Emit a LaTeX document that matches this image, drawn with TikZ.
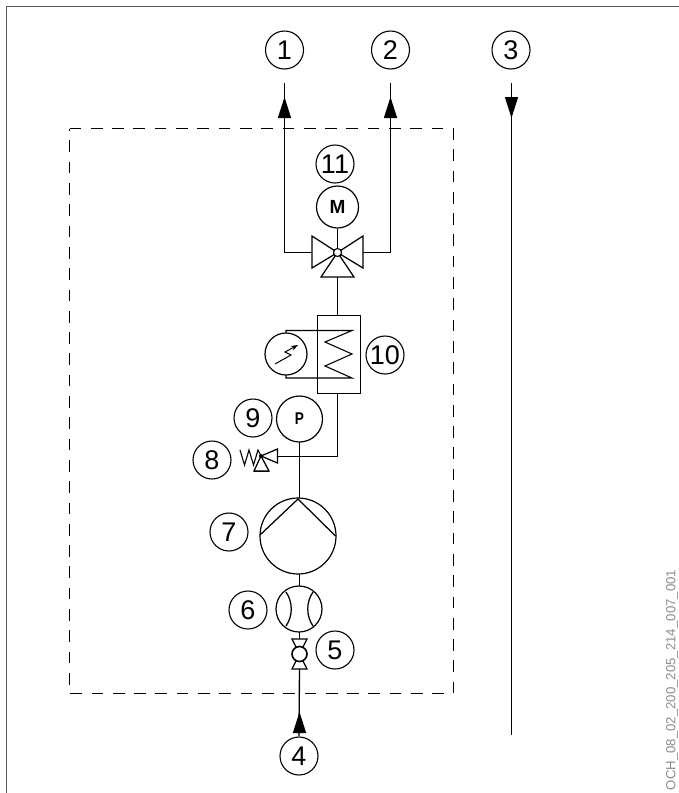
\documentclass[tikz,border=0pt]{standalone}
\usepackage{fontspec}
\setmainfont{Liberation Sans}
\usetikzlibrary{arrows.meta,calc}
\tikzset{
  lbl/.style={circle,draw=black,line width=1.1pt,fill=white,inner sep=0pt,minimum size=38pt,font=\fontsize{27}{27}\selectfont},
  instr/.style={circle,draw=black,line width=1.2pt,fill=white,inner sep=0pt,font=\bfseries},
  pipe/.style={line width=1.35pt,draw=black},
  sym/.style={line width=1.25pt,draw=black,line join=miter},
  flow/.style={line width=1.35pt,draw=black,-{Triangle[length=21pt,width=13pt]},shorten >=0pt},
  hub/.style={circle,draw=black,line width=1.1pt,fill=white,inner sep=0pt,minimum size=8pt},
}
\begin{document}
\begin{tikzpicture}[x=1pt,y=-1pt]
\useasboundingbox (0,0) rectangle (679,793);
% frame
\draw[line width=1.4pt,draw=black!65] (6.5,793) -- (6.5,6.5) -- (679,6.5);
% dashed boundary
\draw[line width=1.5pt,draw=black,dash pattern=on 11.7pt off 9.6pt] (69.5,128.5) -- (453.5,128.5) -- (453.5,693.5) -- (69.5,693.5) -- cycle;

% labels
\node[lbl] (n1) at (284.5,50) {1};
\node[lbl] (n2) at (390.5,50) {2};
\node[lbl] (n3) at (511,50) {3};
\node[lbl] (n4) at (299,756) {4};
\node[lbl] (n5) at (335,650) {5};
\node[lbl] (n6) at (248,610) {6};
\node[lbl] (n7) at (229,532) {7};
\node[lbl] (n8) at (212,460) {8};
\node[lbl] (n9) at (253,418) {9};
\node[lbl] (n10) at (385,355) {10};
\node[lbl] (n11) at (335,164) {11};

% coordinates
\coordinate (v) at (337.5,252.5);
\coordinate (vl) at (312,252.5);
\coordinate (vr) at (363,252.5);
\coordinate (vb) at (337.5,277);
\coordinate (outl) at (284.5,252.5);
\coordinate (outr) at (390.5,252.5);
\coordinate (t1) at (284.5,83);
\coordinate (t2) at (390.5,83);
\coordinate (t3) at (511.5,83);
\coordinate (e3) at (511.5,735);
\coordinate (tip1) at (284.5,97);
\coordinate (tip2) at (390.5,97);
\coordinate (tip3) at (511.5,118);
\coordinate (tip4) at (299.5,712);
\coordinate (bend) at (337.5,456.5);
\coordinate (rv) at (261,456);
\coordinate (rvr) at (277,456.5);
\coordinate (bv) at (299.5,654);
\coordinate (bvt) at (299.5,639);
\coordinate (bvb) at (299.5,669);

% pipes first
\draw[pipe] (outl) -- (t1);
\draw[pipe] (outr) -- (t2);
\draw[pipe] (vl) -- (outl);
\draw[pipe] (vr) -- (outr);
\draw[pipe] (t3) -- (e3);
\draw[pipe] (bvb) -- (n4.north);
\draw[pipe] (vb) -- (337.5,315);
\draw[pipe] (337.5,393) -- (bend) -- (rvr);
\draw[pipe] (299.5,440) -- (299.5,499);
\draw[pipe] (299.5,572) -- (299.5,587);
\draw[pipe] (299.5,631) -- (bvt);

% flow arrows
\draw[flow] (284.5,118) -- (tip1);
\draw[flow] (390.5,118) -- (tip2);
\draw[flow] (511.5,97) -- (tip3);
\draw[flow] (299.5,733) -- (tip4);

% motor + three-way valve
\node[instr,minimum size=42pt,font=\bfseries\fontsize{19}{19}\selectfont] (m) at (337.5,207) {M};
\draw[pipe] (m.south) -- (v);
\draw[sym] (v) -- (312,236) -- (312,268) -- cycle;
\draw[sym] (v) -- (363,236) -- (363,268) -- cycle;
\draw[sym] (v) -- (321,277) -- (354,277) -- cycle;
\node[hub] (vh) at (v) {};

% heat exchanger + gauge
\draw[sym] (317.5,315.5) rectangle (360.5,393.5);
\draw[line width=1.1pt] (286,335) -- (286,330.5) -- (352,330.5) -- (325,342) -- (352,354) -- (325,366) -- (352,378) -- (286,378) -- (286,373);
\node[instr,minimum size=42pt] (g) at (286,354) {};
\draw[line width=1pt,-{Stealth[length=7pt,width=5pt]}] (275,364) -- (291,355) -- (285,352) -- (298,345);

% pressure gauge
\node[instr,minimum size=46pt,font=\bfseries\fontsize{17}{17}\selectfont] (p) at (299.5,419) {\scalebox{.8}[1]{P}};

% relief valve
\draw[sym] (rv) -- (277.5,449) -- (277.5,463) -- cycle;
\draw[sym] (rv) -- (254,471) -- (269,471) -- cycle;
\draw[line width=1.6pt] (254,471.5) -- (269,471.5);
\draw[line width=1.1pt] (240,450) -- (244.5,465) -- (249,450) -- (253.5,465) -- (258,450) -- (261,456);
\fill (rv) circle (2pt);

% pump
\node[instr,minimum size=76pt] (pump) at (298,536) {};
\draw[sym] (260,535) -- (298,499) -- (335.5,536);

% flow meter
\node[instr,minimum size=46pt] (fm) at (299,609) {};
\draw[sym] (286,592) .. controls (293,602) and (293,616) .. (286,626);
\draw[sym] (313,592) .. controls (306,602) and (306,616) .. (313,626);

% ball valve
\draw[sym] (292,639) -- (307,639) -- (bv) -- cycle;
\draw[sym] (292,669) -- (307,669) -- (bv) -- cycle;
\node[circle,draw=black,line width=1.6pt,fill=white,inner sep=0pt,minimum size=15pt] (ball) at (bv) {};

% drawing id
\node[rotate=90,text=black!45,font=\fontsize{13.2}{13.2}\selectfont,inner sep=0pt] (id) at (672,680) {OCH\_08\_02\_200\_205\_214\_007\_001};
\end{tikzpicture}
\end{document}
